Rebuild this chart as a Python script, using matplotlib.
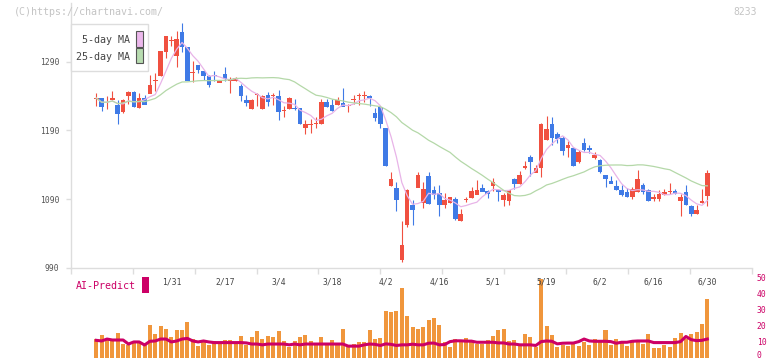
import numpy as np
import pandas as pd
import matplotlib
matplotlib.use("Agg")
import matplotlib.pyplot as plt
from matplotlib import transforms
from matplotlib.patches import Rectangle

W, H = 772, 361

# daily prices, 2025/1/10 .. 2025/6/30
opens = [1236, 1237, 1231, 1235, 1227, 1217, 1241, 1247, 1223, 1238,
         1244, 1262, 1269, 1304, 1320, 1298, 1334, 1312, 1274, 1285,
         1277, 1270, 1271, 1260, 1273, 1262, 1262, 1255, 1234, 1221,
         1242, 1221, 1242, 1241, 1241, 1219, 1221, 1223, 1223, 1194,
         1198, 1200, 1199, 1231, 1227, 1227, 1230, 1226, 1235, 1240,
         1241, 1241, 1216, 1224, 1194, 1109, 1107, 1002, 1052, 1081,
         1107, 1085, 1124, 1103, 1099, 1081, 1084, 1091, 1059, 1089,
         1092, 1097, 1107, 1102, 1109, 1104, 1089, 1087, 1120, 1112,
         1135, 1151, 1129, 1136, 1176, 1200, 1185, 1179, 1164, 1164,
         1145, 1172, 1165, 1150, 1147, 1125, 1116, 1110, 1104, 1101,
         1094, 1100, 1111, 1103, 1090, 1090, 1096, 1101, 1102, 1087,
         1101, 1080, 1069, 1084, 1095]
highs = [1244, 1237, 1240, 1248, 1234, 1236, 1247, 1248, 1245, 1241,
         1271, 1273, 1306, 1328, 1328, 1334, 1346, 1312, 1291, 1285,
         1277, 1270, 1276, 1264, 1282, 1267, 1267, 1258, 1242, 1235,
         1245, 1241, 1246, 1245, 1249, 1226, 1238, 1236, 1223, 1205,
         1206, 1210, 1235, 1235, 1235, 1239, 1252, 1229, 1242, 1245,
         1247, 1241, 1223, 1224, 1194, 1130, 1115, 1058, 1104, 1089,
         1130, 1115, 1130, 1109, 1111, 1099, 1093, 1093, 1075, 1093,
         1107, 1117, 1112, 1103, 1120, 1104, 1099, 1103, 1120, 1131,
         1146, 1154, 1139, 1201, 1211, 1209, 1188, 1182, 1174, 1166,
         1162, 1179, 1168, 1159, 1148, 1125, 1124, 1117, 1110, 1106,
         1107, 1133, 1113, 1104, 1098, 1103, 1105, 1113, 1104, 1098,
         1110, 1082, 1082, 1104, 1133]
lows = [1226, 1218, 1221, 1234, 1200, 1216, 1229, 1224, 1222, 1228,
        1244, 1248, 1269, 1295, 1313, 1282, 1304, 1263, 1261, 1273,
        1263, 1253, 1262, 1260, 1262, 1244, 1262, 1233, 1225, 1221,
        1225, 1221, 1225, 1227, 1205, 1210, 1221, 1220, 1200, 1185,
        1186, 1193, 1199, 1224, 1218, 1227, 1225, 1217, 1229, 1227,
        1231, 1225, 1204, 1193, 1138, 1109, 1072, 998, 1050, 1052,
        1107, 1077, 1083, 1090, 1065, 1077, 1084, 1060, 1058, 1085,
        1092, 1097, 1101, 1092, 1102, 1087, 1080, 1082, 1104, 1112,
        1134, 1124, 1129, 1122, 1176, 1168, 1171, 1154, 1151, 1138,
        1143, 1160, 1157, 1148, 1128, 1107, 1113, 1103, 1094, 1093,
        1090, 1100, 1098, 1087, 1087, 1087, 1096, 1097, 1098, 1065,
        1081, 1066, 1068, 1084, 1080]
closes = [1237, 1225, 1231, 1238, 1214, 1235, 1247, 1225, 1238, 1228,
          1257, 1263, 1306, 1328, 1320, 1324, 1312, 1263, 1275, 1279,
          1269, 1257, 1270, 1264, 1265, 1263, 1267, 1240, 1230, 1235,
          1242, 1241, 1231, 1242, 1217, 1220, 1238, 1222, 1200, 1200,
          1199, 1201, 1231, 1225, 1218, 1235, 1225, 1227, 1236, 1242,
          1242, 1237, 1209, 1199, 1138, 1120, 1089, 1024, 1104, 1075,
          1125, 1105, 1083, 1096, 1081, 1089, 1093, 1062, 1069, 1090,
          1102, 1104, 1101, 1098, 1115, 1100, 1097, 1103, 1113, 1125,
          1139, 1145, 1136, 1199, 1192, 1180, 1178, 1161, 1169, 1138,
          1159, 1162, 1162, 1154, 1130, 1119, 1113, 1103, 1097, 1094,
          1105, 1119, 1101, 1087, 1094, 1098, 1101, 1102, 1098, 1093,
          1081, 1068, 1075, 1087, 1128]
volume = [11.6, 14.1, 11.6, 11.0, 15.6, 8.5, 7.9, 10.0, 10.0, 9.0,
          20.3, 14.7, 19.7, 17.8, 12.9, 17.2, 17.2, 22.2, 11.6, 7.3,
          10.4, 7.9, 10.4, 8.5, 11.0, 11.0, 8.5, 13.5, 7.9, 12.9,
          16.6, 11.6, 13.5, 12.9, 16.6, 10.4, 6.7, 10.4, 12.9, 14.1,
          10.4, 8.5, 12.9, 8.5, 11.0, 8.5, 17.8, 6.7, 8.5, 9.8,
          9.8, 17.2, 11.6, 12.2, 29.0, 28.4, 29.0, 43.4, 25.9, 19.1,
          17.8, 19.1, 23.4, 24.7, 20.3, 9.8, 6.7, 11.6, 11.0, 12.2,
          9.8, 8.5, 8.5, 11.0, 13.5, 17.2, 17.8, 10.4, 11.0, 8.5,
          14.8, 12.9, 6.5, 48.9, 19.7, 14.1, 6.7, 7.9, 7.3, 9.8,
          7.3, 9.8, 7.9, 11.6, 11.0, 17.2, 7.9, 11.6, 9.8, 7.3,
          9.8, 9.8, 8.5, 14.7, 6.0, 6.0, 7.9, 6.7, 12.3, 15.4,
          11.6, 14.7, 16.0, 21.0, 36.5]
ai_predict = [10.8, 10.4, 11.6, 11.0, 11.0, 11.0, 8.5, 9.8, 9.8, 7.9,
              10.2, 10.4, 11.6, 11.6, 9.8, 10.4, 11.6, 12.0, 10.4, 9.8,
              10.4, 9.8, 9.4, 9.4, 9.4, 9.4, 9.4, 9.4, 9.2, 8.5,
              8.5, 8.0, 8.5, 8.5, 8.5, 8.5, 8.0, 8.5, 8.0, 8.5,
              8.5, 8.5, 8.5, 8.5, 8.5, 8.5, 8.5, 7.2, 7.2, 7.2,
              8.0, 8.5, 8.3, 7.6, 8.6, 8.3, 7.6, 8.0, 8.0, 8.4,
              8.0, 8.0, 9.0, 9.1, 8.0, 8.2, 10.0, 10.5, 10.5, 10.3,
              10.3, 9.6, 9.6, 9.6, 9.6, 9.2, 9.2, 8.5, 8.5, 8.0,
              8.0, 8.0, 7.6, 10.0, 10.4, 10.2, 8.6, 9.0, 9.1, 9.1,
              10.0, 11.6, 10.4, 10.2, 10.2, 10.2, 10.0, 9.0, 9.6, 9.6,
              10.2, 10.4, 10.4, 10.4, 9.4, 9.4, 9.4, 9.4, 9.4, 10.0,
              13.2, 11.2, 10.6, 10.8, 11.6]

date_labels = ["1/31", "2/17", "3/4", "3/18", "4/2", "4/16", "5/1",
               "5/19", "6/2", "6/16", "6/30"]
label_idx = [14, 24, 34, 44, 54, 64, 74, 84, 94, 104, 114]
price_ticks = [990, 1090, 1190, 1290]
vol_ticks = [0, 10, 20, 30, 40, 50]

RED = "#f05040"
BLUE = "#3f7ae6"
MONO = "DejaVu Sans Mono"


def fx(px):
    return px / W


def fy(py):
    return 1 - py / H


df = pd.DataFrame({"o": opens, "h": highs, "l": lows, "c": closes})
df["ma5"] = df["c"].rolling(5, min_periods=1).mean()
df["ma25"] = df["c"].rolling(25, min_periods=1).mean()
x = np.arange(len(df))

fig = plt.figure(figsize=(W / 100, H / 100), dpi=100)

# price panel
ax = fig.add_axes([fx(70.7), fy(267.7), fx(752) - fx(70.7), fy(3) - fy(267.7)])
xlo, xhi = (70.7 - 96.3) / 5.36, (752 - 96.3) / 5.36
ax.set_xlim(xlo, xhi)
ax.set_ylim(990, 990 + 264.7 * 300 / 206)

col = np.where(df["c"] >= df["o"], RED, BLUE)
ax.vlines(x, df["l"], df["h"], colors=col, lw=0.8, zorder=2)
body_lo = np.minimum(df["o"], df["c"])
body_h = np.maximum((df["c"] - df["o"]).abs(), 1.3)
ax.bar(x, body_h, bottom=body_lo - 0.4, width=0.86, color=col, linewidth=0, zorder=3)
ax.plot(x, df["ma5"], color="#e8b4e8", lw=0.9, zorder=4)
ax.plot(x, df["ma25"], color="#b4d8a8", lw=0.9, zorder=4)

for s in ["top", "right"]:
    ax.spines[s].set_visible(False)
for s in ["left", "bottom"]:
    ax.spines[s].set_color("#dddddd")
    ax.spines[s].set_linewidth(1.0)
ax.set_yticks(price_ticks)
ax.set_yticklabels([str(v) for v in price_ticks], fontsize=5.8, color="#555555",
                   family=MONO)
ax.tick_params(axis="y", length=3.6, width=1.0, color="#dddddd", pad=4.6)
ax.set_xticks(np.linspace(xlo, xhi, 12))
ax.set_xticklabels([])
ax.tick_params(axis="x", length=4, width=1.0, color="#dddddd")

# volume panel
axv = fig.add_axes([fx(70.7), fy(357.7), fx(752) - fx(70.7), fy(277.3) - fy(357.7)])
axv.set_xlim(xlo, xhi)
axv.set_ylim(0, 50)
axv.bar(x, volume, width=0.75, color="#f0963c", linewidth=0)
axv.plot(x, ai_predict, color="#cc0066", lw=2.2)
for s in axv.spines.values():
    s.set_visible(False)
axv.set_xticks([])
axv.yaxis.tick_right()
axv.set_yticks(vol_ticks)
axv.set_yticklabels([str(v) for v in vol_ticks], fontsize=5.8, color="#cc0066",
                    family=MONO)
axv.tick_params(axis="y", length=0, pad=3.4)
axv.get_yticklabels()[0].set_verticalalignment("baseline")
axv.patch.set_visible(False)

tr = transforms.blended_transform_factory(axv.transData, fig.transFigure)
for i, lab in zip(label_idx, date_labels):
    axv.text(i, fy(282), lab, transform=tr, ha="center", va="center",
             fontsize=5.8, color="#444444", family=MONO)

# legend box
fig.add_artist(Rectangle((fx(70.7), fy(71)), fx(148) - fx(70.7), fy(24.3) - fy(71),
                         transform=fig.transFigure, facecolor="white",
                         edgecolor="#dddddd", lw=1.0, zorder=5))
fig.add_artist(Rectangle((fx(136), fy(46.7)), fx(142.7) - fx(136), fy(31) - fy(46.7),
                         transform=fig.transFigure, facecolor="#ecb8ec",
                         edgecolor="#555555", lw=0.8, zorder=6))
fig.add_artist(Rectangle((fx(136), fy(63.3)), fx(142.7) - fx(136), fy(48.3) - fy(63.3),
                         transform=fig.transFigure, facecolor="#b8dcb0",
                         edgecolor="#555555", lw=0.8, zorder=6))
fig.text(fx(129.5), fy(40.3), "5-day MA", ha="right", va="center", fontsize=7.2,
         color="#444444", family=MONO, zorder=7)
fig.text(fx(129.5), fy(57.3), "25-day MA", ha="right", va="center", fontsize=7.2,
         color="#444444", family=MONO, zorder=7)

# captions
fig.text(fx(13.5), fy(12.3), "(C)https://chartnavi.com/", ha="left", va="center",
         fontsize=7.2, color="#c4c4c4", family=MONO)
fig.text(fx(757), fy(12.3), "8233", ha="right", va="center", fontsize=7.0,
         color="#c4c4c4", family=MONO)
fig.text(fx(75.5), fy(286), "AI-Predict", ha="left", va="center", fontsize=7.2,
         color="#cc0066", family=MONO)
fig.add_artist(Rectangle((fx(142.3), fy(292.7)), fx(148.7) - fx(142.3),
                         fy(276.7) - fy(292.7), transform=fig.transFigure,
                         facecolor="#cc0066", edgecolor="none"))

fig.savefig("out.png", dpi=100)
